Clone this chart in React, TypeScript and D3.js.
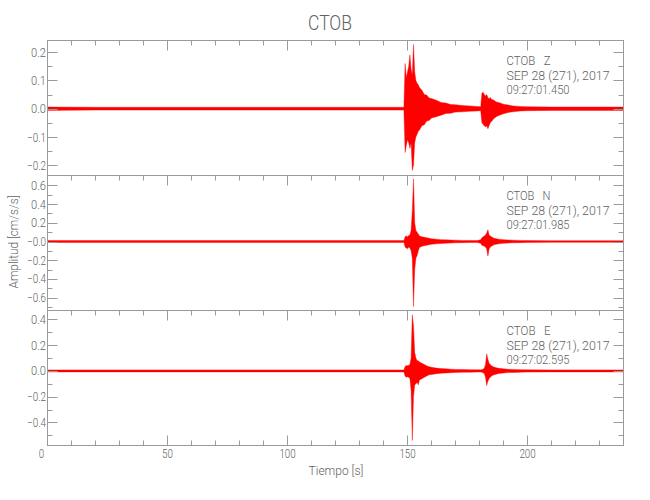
import React from 'react';
import * as d3 from 'd3';

// ---- data ----
const TIME = [0, 20, 40, 60, 80, 100, 120, 140, 148.5, 149, 149.5, 150, 150.5, 151, 151.5, 152, 152.5, 153, 153.5, 154, 154.5, 155, 156, 157, 158, 159, 160, 162, 164, 166, 168, 170, 173, 176, 179, 180.5, 181, 181.5, 182, 182.5, 183, 183.5, 184, 184.5, 185, 186, 187, 188, 190, 192, 194, 197, 200, 210, 220, 230, 240];

const Z_MAX = [0.006, 0.005, 0.005, 0.005, 0.005, 0.005, 0.005, 0.005, 0.005, 0.16, 0.11, 0.13, 0.15, 0.19, 0.14, 0.12, 0.227, 0.13, 0.10, 0.09, 0.085, 0.075, 0.065, 0.05, 0.048, 0.038, 0.036, 0.03, 0.022, 0.02, 0.015, 0.014, 0.011, 0.01, 0.008, 0.007, 0.055, 0.058, 0.05, 0.045, 0.05, 0.04, 0.035, 0.04, 0.033, 0.03, 0.024, 0.022, 0.016, 0.013, 0.01, 0.008, 0.007, 0.006, 0.006, 0.006, 0.006];
const Z_MIN = [-0.006, -0.005, -0.005, -0.005, -0.005, -0.005, -0.005, -0.005, -0.005, -0.155, -0.13, -0.11, -0.12, -0.14, -0.12, -0.218, -0.2, -0.12, -0.1, -0.09, -0.08, -0.075, -0.06, -0.057, -0.043, -0.042, -0.033, -0.028, -0.023, -0.017, -0.016, -0.012, -0.011, -0.009, -0.008, -0.007, -0.05, -0.055, -0.06, -0.065, -0.06, -0.071, -0.06, -0.05, -0.045, -0.035, -0.028, -0.024, -0.018, -0.013, -0.011, -0.008, -0.007, -0.006, -0.006, -0.006, -0.006];

const N_MAX = [0.01, 0.01, 0.01, 0.01, 0.01, 0.01, 0.01, 0.01, 0.01, 0.05, 0.06, 0.05, 0.064, 0.07, 0.12, 0.33, 0.67, 0.2, 0.118, 0.1, 0.08, 0.06, 0.05, 0.045, 0.04, 0.035, 0.03, 0.025, 0.02, 0.018, 0.016, 0.014, 0.012, 0.011, 0.01, 0.02, 0.04, 0.05, 0.06, 0.07, 0.09, 0.125, 0.07, 0.06, 0.05, 0.035, 0.03, 0.025, 0.02, 0.016, 0.014, 0.012, 0.01, 0.009, 0.009, 0.009, 0.009];
const N_MIN = [-0.01, -0.01, -0.01, -0.01, -0.01, -0.01, -0.01, -0.01, -0.01, -0.06, -0.07, -0.078, -0.06, -0.07, -0.1, -0.18, -0.695, -0.3, -0.18, -0.15, -0.1, -0.065, -0.05, -0.045, -0.04, -0.035, -0.03, -0.025, -0.022, -0.018, -0.016, -0.014, -0.012, -0.011, -0.01, -0.02, -0.04, -0.045, -0.05, -0.06, -0.08, -0.157, -0.08, -0.06, -0.05, -0.035, -0.03, -0.025, -0.02, -0.016, -0.014, -0.012, -0.01, -0.009, -0.009, -0.009, -0.009];

const E_MAX = [0.008, 0.008, 0.008, 0.008, 0.008, 0.008, 0.008, 0.008, 0.008, 0.035, 0.042, 0.04, 0.045, 0.05, 0.1, 0.436, 0.35, 0.145, 0.1, 0.08, 0.08, 0.07, 0.06, 0.05, 0.04, 0.032, 0.028, 0.022, 0.018, 0.016, 0.014, 0.012, 0.011, 0.01, 0.009, 0.009, 0.01, 0.015, 0.02, 0.05, 0.133, 0.09, 0.06, 0.05, 0.04, 0.03, 0.025, 0.02, 0.016, 0.013, 0.012, 0.01, 0.009, 0.008, 0.008, 0.008, 0.008];
const E_MIN = [-0.008, -0.008, -0.008, -0.008, -0.008, -0.008, -0.008, -0.008, -0.008, -0.04, -0.05, -0.045, -0.05, -0.06, -0.15, -0.541, -0.2, -0.11, -0.1, -0.09, -0.108, -0.07, -0.06, -0.05, -0.04, -0.03, -0.028, -0.022, -0.018, -0.016, -0.014, -0.012, -0.011, -0.01, -0.009, -0.009, -0.01, -0.015, -0.02, -0.05, -0.114, -0.08, -0.06, -0.05, -0.04, -0.03, -0.025, -0.02, -0.016, -0.013, -0.012, -0.01, -0.009, -0.008, -0.008, -0.008, -0.008];

const X_DOMAIN = [0, 240];
const X_MAJOR = [0, 50, 100, 150, 200];
const X_MINOR = [10, 20, 30, 40, 60, 70, 80, 90, 110, 120, 130, 140, 160, 170, 180, 190, 210, 220, 230];

const Z_DOMAIN = [-0.236, 0.241];
const N_DOMAIN = [-0.738, 0.706];
const E_DOMAIN = [-0.58, 0.47];

const Z_TICKS = [-0.2, -0.1, 0, 0.1, 0.2];
const Z_LABELS = ['\u22120.2', '\u22120.1', '0.0', '0.1', '0.2'];
const Z_MINOR = [-0.15, -0.05, 0.05, 0.15];
const N_TICKS = [-0.6, -0.4, -0.2, 0, 0.2, 0.4, 0.6];
const N_LABELS = ['\u22120.6', '\u22120.4', '\u22120.2', '\u22120.0', '0.2', '0.4', '0.6'];
const N_MINOR = [-0.7, -0.5, -0.3, -0.1, 0.1, 0.3, 0.5];
const E_TICKS = [-0.4, -0.2, 0, 0.2, 0.4];
const E_LABELS = ['\u22120.4', '\u22120.2', '0.0', '0.2', '0.4'];
const E_MINOR = [-0.5, -0.3, -0.1, 0.1, 0.3];

const STATION = 'CTOB';
const COMPONENTS = ['Z', 'N', 'E'];
const DATE_LABEL = 'SEP 28 (271), 2017';
const START_TIMES = ['09:27:01.450', '09:27:01.985', '09:27:02.595'];
const TITLE = 'CTOB';
const X_TITLE = 'Tiempo [s]';
const Y_TITLE = 'Amplitud [cm/s/s]';

// ---- layout ----
const W = 650;
const H = 500;
const LEFT = 47.5;
const RIGHT = 623.5;
const TOP = 40.5;
const PANEL_H = 135;
const AXIS = '#9a9a9a';
const TEXT = '#626262';
const FONT = "Roboto, 'DejaVu Sans Condensed', sans-serif";

const panels = [
  { max: Z_MAX, min: Z_MIN, domain: Z_DOMAIN, ticks: Z_TICKS, labels: Z_LABELS, minor: Z_MINOR },
  { max: N_MAX, min: N_MIN, domain: N_DOMAIN, ticks: N_TICKS, labels: N_LABELS, minor: N_MINOR },
  { max: E_MAX, min: E_MIN, domain: E_DOMAIN, ticks: E_TICKS, labels: E_LABELS, minor: E_MINOR },
];

export default function App() {
  const x = d3.scaleLinear().domain(X_DOMAIN).range([LEFT, RIGHT]);
  const bottom = TOP + PANEL_H * 3;
  const pre = { whiteSpace: 'pre' as const };

  return (
    <svg width={W} height={H} style={{ position: 'absolute', left: 0, top: 0, display: 'block', background: '#fff' }}
      fontFamily={FONT} fontWeight={300}>
      <text x={330} y={30} textAnchor="middle" fontSize={19.5} fill={TEXT} textLength={44} lengthAdjust="spacingAndGlyphs">{TITLE}</text>
      {panels.map((p, i) => {
        const top = TOP + i * PANEL_H;
        const y = d3.scaleLinear().domain(p.domain).range([top + PANEL_H, top]);
        const idx = d3.range(TIME.length);
        const area = d3.area<number>()
          .x((k) => x(TIME[k]))
          .y0((k) => y(p.min[k]))
          .y1((k) => y(p.max[k]));
        return (
          <g key={i}>
            <path d={area(idx) || ''} fill="#ff0000" stroke="#ff0000" strokeWidth={0.4} strokeLinejoin="round" />
            <rect x={LEFT} y={top} width={RIGHT - LEFT} height={PANEL_H} fill="none" stroke={AXIS} strokeWidth={1} />
            {X_MAJOR.map((t) => (
              <line key={'tM' + t} x1={x(t)} x2={x(t)} y1={top} y2={top + 10} stroke={AXIS} />
            ))}
            {X_MINOR.map((t) => (
              <line key={'tm' + t} x1={x(t)} x2={x(t)} y1={top} y2={top + 5} stroke={AXIS} />
            ))}
            {p.ticks.map((v, j) => (
              <g key={'y' + j}>
                <line x1={LEFT} x2={LEFT + 10} y1={Math.round(y(v)) + 0.5} y2={Math.round(y(v)) + 0.5} stroke={AXIS} />
                <line x1={RIGHT - 10} x2={RIGHT} y1={Math.round(y(v)) + 0.5} y2={Math.round(y(v)) + 0.5} stroke={AXIS} />
                <text x={LEFT - 1.5} y={y(v)} dy="0.36em" textAnchor="end" fontSize={12.5} fill={TEXT}
                  textLength={p.labels[j].length > 3 ? 19 : 15} lengthAdjust="spacingAndGlyphs">{p.labels[j]}</text>
              </g>
            ))}
            {p.minor.map((v, j) => (
              <g key={'ym' + j}>
                <line x1={LEFT} x2={LEFT + 5} y1={Math.round(y(v)) + 0.5} y2={Math.round(y(v)) + 0.5} stroke={AXIS} />
                <line x1={RIGHT - 5} x2={RIGHT} y1={Math.round(y(v)) + 0.5} y2={Math.round(y(v)) + 0.5} stroke={AXIS} />
              </g>
            ))}
            <text x={506.5} y={top + 24.5} fontSize={13.5} fill={TEXT} style={pre} textLength={44} lengthAdjust="spacingAndGlyphs">{STATION + '   ' + COMPONENTS[i]}</text>
            <text x={506.5} y={top + 39} fontSize={13.5} fill={TEXT} style={pre} textLength={103} lengthAdjust="spacingAndGlyphs">{DATE_LABEL}</text>
            <text x={506.5} y={top + 53.5} fontSize={13.5} fill={TEXT} textLength={63} lengthAdjust="spacingAndGlyphs">{START_TIMES[i]}</text>
          </g>
        );
      })}
      {X_MAJOR.map((t) => (
        <g key={'b' + t}>
          <line x1={x(t)} x2={x(t)} y1={bottom} y2={bottom - 10} stroke={AXIS} />
          <text x={x(t) - (t === 0 ? 6 : 0)} y={457.5} textAnchor="middle" fontSize={12.5} fill={TEXT}
            textLength={String(t).length * 5.4} lengthAdjust="spacingAndGlyphs">{String(t)}</text>
        </g>
      ))}
      {X_MINOR.map((t) => (
        <line key={'bm' + t} x1={x(t)} x2={x(t)} y1={bottom} y2={bottom - 5} stroke={AXIS} />
      ))}
      <text x={336} y={475} textAnchor="middle" fontSize={13.5} fill={TEXT} style={pre} textLength={55} lengthAdjust="spacingAndGlyphs">{X_TITLE}</text>
      <text transform="translate(17.5,242) rotate(-90)" textAnchor="middle" fontSize={13.5} fill={TEXT} style={pre} textLength={93} lengthAdjust="spacingAndGlyphs">{Y_TITLE}</text>
    </svg>
  );
}
